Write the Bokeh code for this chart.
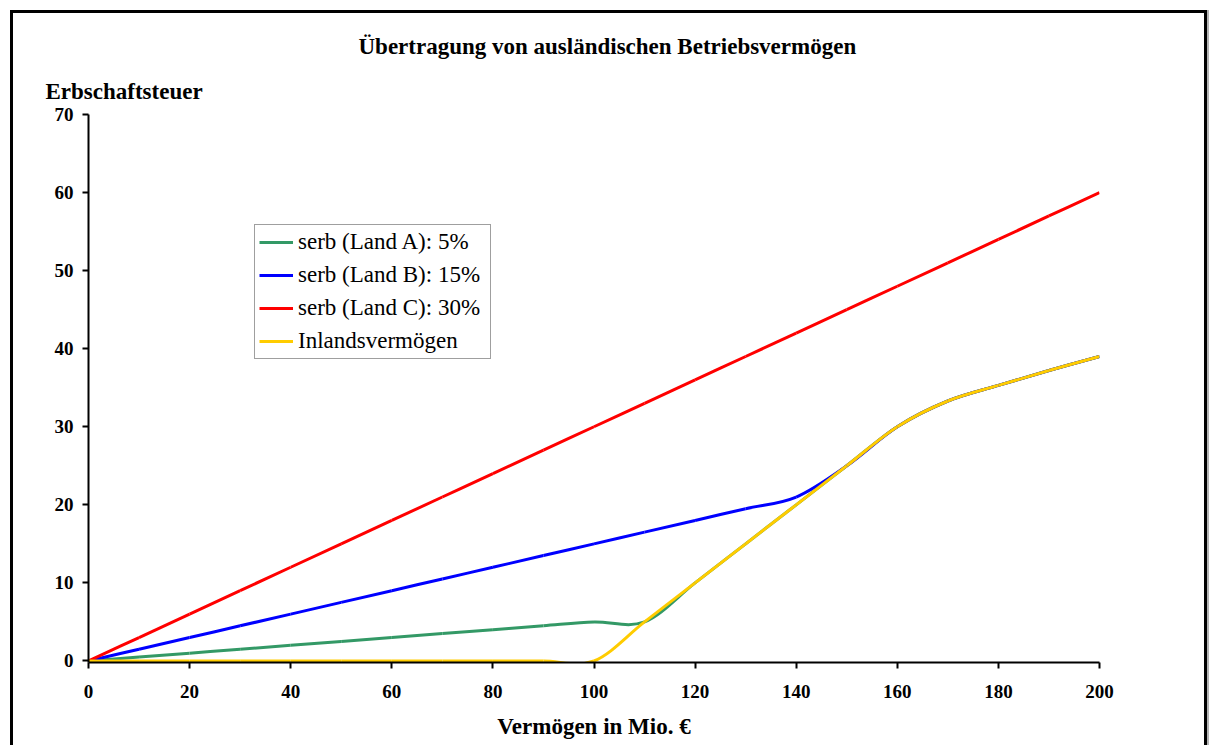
from bokeh.plotting import figure
from bokeh.models import (Range1d, FixedTicker, Legend, LegendItem, Title,
                          ColumnDataSource, InlineStyleSheet)
from bokeh.embed import file_html
from bokeh.resources import INLINE

# Vermögen in Mio. € (x) and Erbschaftsteuer (y) for each case
vermoegen = [0, 10, 20, 30, 40, 50, 60, 70, 80, 90, 100,
             110, 120, 130, 140, 150, 160, 170, 180, 190, 200]
land_a = [0, 0.5, 1, 1.5, 2, 2.5, 3, 3.5, 4, 4.5, 5,
          5, 10, 15, 20, 25, 30, 33.3, 35.3, 37.2, 39]
land_b = [0, 1.5, 3, 4.5, 6, 7.5, 9, 10.5, 12, 13.5, 15,
          16.5, 18, 19.5, 21, 25, 30, 33.3, 35.3, 37.2, 39]
land_c = [0, 3, 6, 9, 12, 15, 18, 21, 24, 27, 30,
          33, 36, 39, 42, 45, 48, 51, 54, 57, 60]
inland = [0, 0, 0, 0, 0, 0, 0, 0, 0, 0, 0,
          5, 10, 15, 20, 25, 30, 33.3, 35.3, 37.2, 39]

series_labels = ["serb (Land A): 5%", "serb (Land B): 15%",
                 "serb (Land C): 30%", "Inlandsvermögen"]
series_colors = ["#339966", "#0000FF", "#FF0000", "#FFCC00"]
x_ticks = [0, 20, 40, 60, 80, 100, 120, 140, 160, 180, 200]
y_ticks = [0, 10, 20, 30, 40, 50, 60, 70]

FONT = "Liberation Serif"


def smoothed(xs, ys):
    """Cubic Bezier segments through the points (spreadsheet-style smoothing)."""
    n = len(xs)
    d = dict(x0=[], y0=[], x1=[], y1=[], cx0=[], cy0=[], cx1=[], cy1=[])
    for i in range(n - 1):
        ip = i - 1 if i > 0 else i
        inx = i + 2 if i + 2 < n else i + 1
        d["x0"].append(xs[i]); d["y0"].append(ys[i])
        d["x1"].append(xs[i + 1]); d["y1"].append(ys[i + 1])
        d["cx0"].append(xs[i] + (xs[i + 1] - xs[ip]) / 6)
        d["cy0"].append(ys[i] + (ys[i + 1] - ys[ip]) / 6)
        d["cx1"].append(xs[i + 1] - (xs[inx] - xs[i]) / 6)
        d["cy1"].append(ys[i + 1] - (ys[inx] - ys[i]) / 6)
    return ColumnDataSource(d)


# a sliver below zero keeps the zero-level line visible above the axis line
p = figure(width=1211, height=745, output_backend="svg", toolbar_location=None,
           title=None,
           x_range=Range1d(0, 200), y_range=Range1d(-0.2, 70),
           min_border_left=88, min_border_right=112,
           min_border_top=114, min_border_bottom=83)
p.outline_line_color = None
p.xgrid.visible = False
p.ygrid.visible = False
p.background_fill_color = "white"
p.border_fill_color = "white"

renderers = []
for ys, color in zip([land_a, land_b, land_c, inland], series_colors):
    r = p.bezier(x0="x0", y0="y0", x1="x1", y1="y1",
                 cx0="cx0", cy0="cy0", cx1="cx1", cy1="cy1",
                 source=smoothed(vermoegen, ys),
                 line_color=color, line_width=3)
    renderers.append(r)

for ax in (p.xaxis[0], p.yaxis[0]):
    ax.axis_line_color = "black"
    ax.axis_line_width = 2
    ax.major_tick_line_color = "black"
    ax.major_tick_line_width = 2
    ax.major_tick_out = 6
    ax.major_tick_in = 0
    ax.minor_tick_line_color = None
    ax.major_label_text_font = FONT
    ax.major_label_text_font_style = "bold"
    ax.major_label_text_font_size = "19px"
    ax.major_label_text_color = "black"

p.xaxis[0].ticker = FixedTicker(ticks=x_ticks)
p.yaxis[0].ticker = FixedTicker(ticks=y_ticks)
p.xaxis[0].major_label_standoff = 16
p.yaxis[0].major_label_standoff = 9
p.xaxis[0].axis_label = "Vermögen in Mio. €"
p.xaxis[0].axis_label_text_font = FONT
p.xaxis[0].axis_label_text_font_style = "bold"
p.xaxis[0].axis_label_text_font_size = "23px"
p.xaxis[0].axis_label_text_color = "black"
p.xaxis[0].axis_label_standoff = 13

# y-axis caption (nearest the plot area), then the chart title above it
p.add_layout(Title(text="Erbschaftsteuer", align="left", offset=-43, standoff=22,
                   text_font=FONT, text_font_style="bold", text_font_size="23px",
                   text_color="black"), "above")
p.add_layout(Title(text="Übertragung von ausländischen Betriebsvermögen",
                   align="left", offset=270, standoff=13,
                   text_font=FONT, text_font_style="bold", text_font_size="23px",
                   text_color="black"), "above")

legend = Legend(items=[LegendItem(label=lab, renderers=[r])
                       for lab, r in zip(series_labels, renderers)],
                location=(166, 303), orientation="vertical",
                label_text_font=FONT, label_text_font_size="23px",
                label_text_color="black", label_width=188,
                glyph_width=34, glyph_height=20, label_standoff=5,
                padding=4, spacing=7, margin=0,
                border_line_color="#404040", border_line_width=1,
                background_fill_color="white", background_fill_alpha=1)
p.add_layout(legend)

# outer chart frame (open at the bottom edge of the page)
p.stylesheets = [InlineStyleSheet(css=""":host::after {
  content: "";
  position: absolute;
  left: 10px;
  top: 10px;
  width: 1197px;
  height: 735px;
  box-sizing: border-box;
  border-style: solid;
  border-color: #000;
  border-width: 3px 3px 0 3px;
  box-shadow: 2px 0 0 #b4b4b4;
  pointer-events: none;
}""")]

open("out.html", "w").write(file_html(p, INLINE))
